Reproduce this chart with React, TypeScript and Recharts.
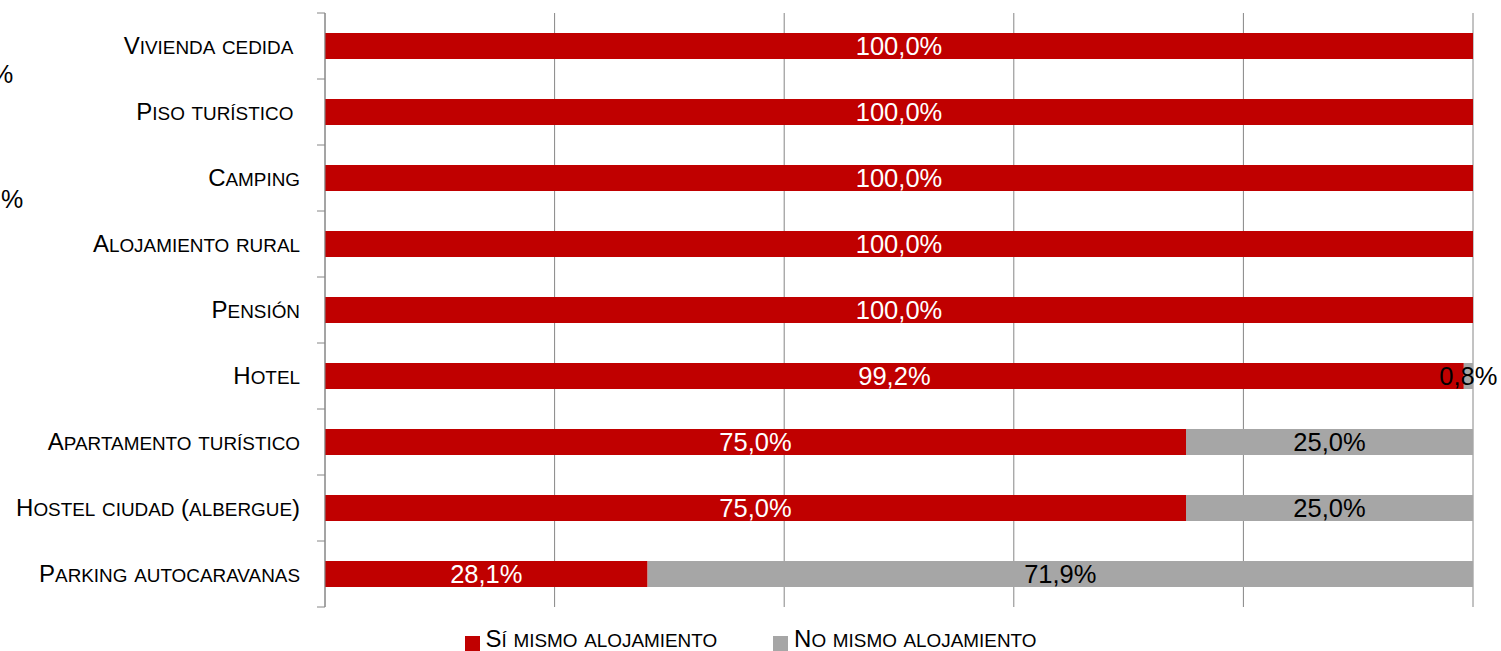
import React from 'react';
import { BarChart, Bar, XAxis, YAxis, CartesianGrid, LabelList } from 'recharts';

const categories = [
  'Vivienda cedida ',
  'Piso turístico ',
  'Camping',
  'Alojamiento rural',
  'Pensión',
  'Hotel',
  'Apartamento turístico',
  'Hostel ciudad (albergue)',
  'Parking autocaravanas',
];
const siValues = [100, 100, 100, 100, 100, 99.2, 75, 75, 28.1];
const noValues = [0, 0, 0, 0, 0, 0.8, 25, 25, 71.9];
const xTicks = [0, 20, 40, 60, 80, 100];
const seriesNames = ['Sí mismo alojamiento', 'No mismo alojamiento'];
const seriesColors = ['#C00000', '#A6A6A6'];

const data = categories.map((name, i) => ({ name, si: siValues[i], no: noValues[i] }));

const W = 1501;
const H = 651;
const MARGIN = { top: 13, right: 28, bottom: 44, left: 0 };
const Y_AXIS_W = 325;
const AXIS_X = MARGIN.left + Y_AXIS_W;
const PLOT_H = H - MARGIN.top - MARGIN.bottom;
const BAND = PLOT_H / categories.length;
const FONT = "'Liberation Sans', Arial, sans-serif";
const AXIS_COLOR = '#868686';

type Run = { text: string; small: boolean };
function smallCapsRuns(s: string): Run[] {
  const runs: Run[] = [];
  for (const ch of s.replace(/ $/, '\u00A0')) {
    const isLower = ch !== ch.toUpperCase() && ch === ch.toLowerCase();
    const text = isLower ? ch.toUpperCase() : ch;
    const last = runs[runs.length - 1];
    if (last && last.small === isLower) last.text += text;
    else runs.push({ text, small: isLower });
  }
  return runs;
}

const BIG = 24;
const SMALL = 18.9;

const CatTick = (props: any) => {
  const { y, payload, index } = props;
  const runs = smallCapsRuns(String(payload.value));
  const isLast = index === categories.length - 1;
  return (
    <g>
      <line x1={AXIS_X - 8} x2={AXIS_X} y1={y - BAND / 2} y2={y - BAND / 2} stroke={AXIS_COLOR} strokeWidth={1} />
      {isLast && (
        <line x1={AXIS_X - 8} x2={AXIS_X} y1={y + BAND / 2} y2={y + BAND / 2} stroke={AXIS_COLOR} strokeWidth={1} />
      )}
      <text x={AXIS_X - 25} y={y + 8} textAnchor="end" fill="#000" fontFamily={FONT} style={{ whiteSpace: 'pre' }}>
        {runs.map((r, i) => (
          <tspan key={i} fontSize={r.small ? SMALL : BIG}>{r.text}</tspan>
        ))}
      </text>
    </g>
  );
};

const fmt = (v: number) => v.toFixed(1).replace('.', ',') + '%';

const makeLabel = (color: string) => (props: any) => {
  const { x, y, width, height, value } = props;
  if (!value) return null;
  return (
    <text
      x={Number(x) + Number(width) / 2}
      y={Number(y) + Number(height) / 2 + 9}
      textAnchor="middle"
      fill={color}
      fontSize={25.5}
      fontFamily={FONT}
    >
      {fmt(Number(value))}
    </text>
  );
};

const LegendItem = ({ name, color }: { name: string; color: string }) => (
  <div style={{ display: 'flex', alignItems: 'center' }}>
    <div style={{ width: 15, height: 15, background: color, marginRight: 6, marginTop: 5 }} />
    <span style={{ fontFamily: FONT, color: '#000', whiteSpace: 'pre', lineHeight: '26px' }}>
      {smallCapsRuns(name).map((r, i) => (
        <span key={i} style={{ fontSize: r.small ? SMALL : BIG }}>{r.text}</span>
      ))}
    </span>
  </div>
);

export default function App() {
  return (
    <div style={{ position: 'absolute', left: 0, top: 0, width: W, height: H, background: '#fff', overflow: 'hidden' }}>
      <BarChart width={W} height={H} data={data} layout="vertical" margin={MARGIN} barSize={26}>
        <CartesianGrid horizontal={false} vertical={true} stroke={AXIS_COLOR} strokeWidth={1} />
        <XAxis type="number" domain={[0, 100]} ticks={xTicks} hide />
        <YAxis
          type="category"
          dataKey="name"
          width={Y_AXIS_W}
          axisLine={{ stroke: AXIS_COLOR, strokeWidth: 1 }}
          tickLine={false}
          tick={<CatTick />}
          interval={0}
        />
        <Bar dataKey="si" name={seriesNames[0]} stackId="a" fill={seriesColors[0]} isAnimationActive={false}>
          <LabelList dataKey="si" content={makeLabel('#ffffff')} />
        </Bar>
        <Bar dataKey="no" name={seriesNames[1]} stackId="a" fill={seriesColors[1]} isAnimationActive={false}>
          <LabelList dataKey="no" content={makeLabel('#000000')} />
        </Bar>
      </BarChart>
      <div style={{ position: 'absolute', left: -9, top: 60, fontFamily: FONT, fontSize: 25, color: '#000' }}>%</div>
      <div style={{ position: 'absolute', left: 1, top: 185, fontFamily: FONT, fontSize: 25, color: '#000' }}>%</div>
      <div
        style={{
          position: 'absolute',
          left: 0,
          top: 626,
          width: W,
          display: 'flex',
          justifyContent: 'center',
          gap: 56,
        }}
      >
        {seriesNames.map((n, i) => (
          <LegendItem key={n} name={n} color={seriesColors[i]} />
        ))}
      </div>
    </div>
  );
}
